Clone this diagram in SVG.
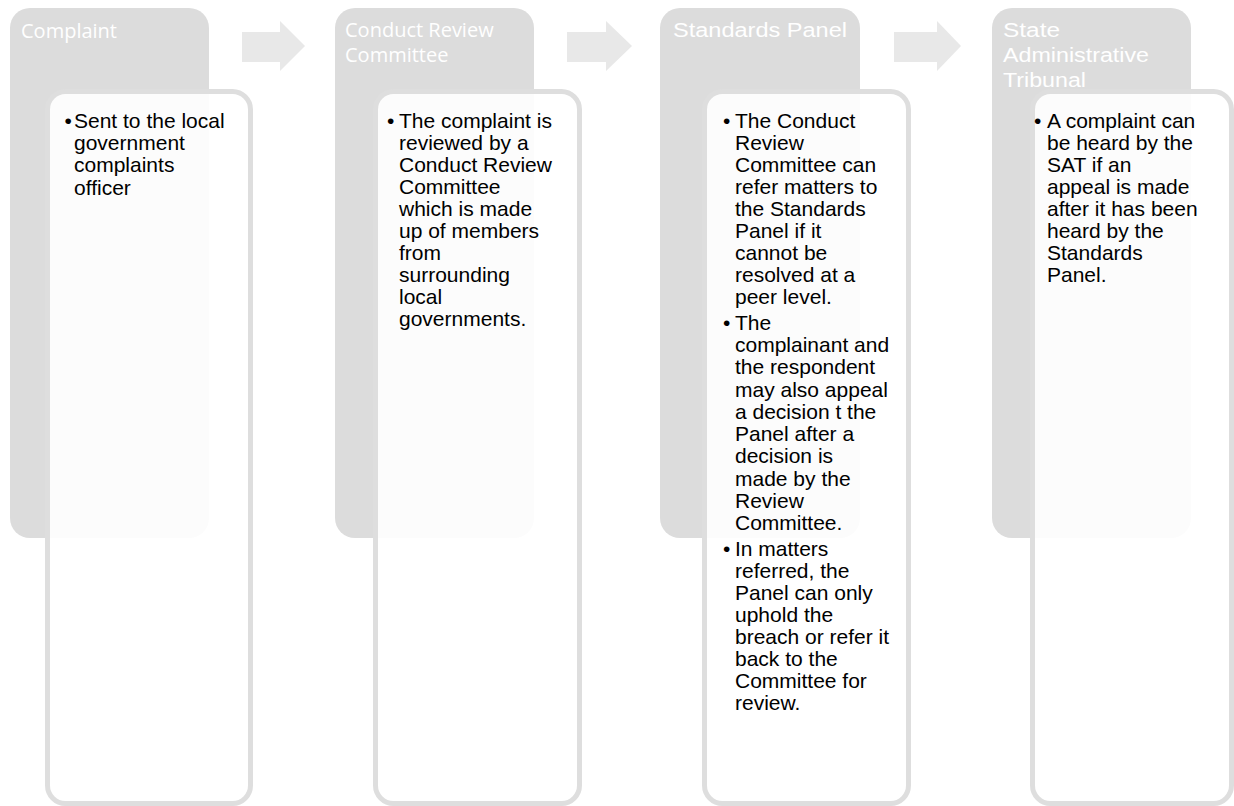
<svg xmlns="http://www.w3.org/2000/svg" width="1234" height="806" viewBox="0 0 1234 806">
<style>
.bg{fill:#dcdcdc}
.card{fill:#ffffff;fill-opacity:0.9;stroke:#dedede;stroke-width:5}
.arrow{fill:#e8e8e8}
.h1{font-family:"Open Sans","Liberation Sans",sans-serif;font-size:20px;fill:#ffffff}
.h2{font-family:"Liberation Sans",Arial,sans-serif;font-size:20px;fill:#ffffff}
.b{font-family:"Liberation Sans",Arial,sans-serif;font-size:21px;fill:#000000}
</style>
<rect width="1234" height="806" fill="#ffffff"/>
<g id="connectors">
<polygon class="arrow" points="242,32 280,32 280,21 305,46 280,71 280,62 242,62"/>
<polygon class="arrow" points="567,32 606,32 606,21 632,46 606,71 606,62 567,62"/>
<polygon class="arrow" points="894,32 937,32 937,21 961,46 937,71 937,62 894,62"/>
</g>
<g id="complaint">
<rect class="bg" x="10" y="8" width="199" height="530" rx="20"/>
<text class="h1" x="21" y="38">Complaint</text>
<rect class="card" x="47.5" y="91.5" width="203" height="712" rx="18"/>
<text class="b" x="64.5" y="128">•</text>
<text class="b" x="74"><tspan x="74" y="128">Sent to the local</tspan><tspan x="74" y="150">government</tspan><tspan x="74" y="172">complaints</tspan><tspan x="74" y="195">officer</tspan></text>
</g>
<g id="conduct-review-committee">
<rect class="bg" x="335" y="8" width="199" height="530" rx="20"/>
<text class="h1"><tspan x="345" y="37">Conduct Review</tspan><tspan x="345" y="62">Committee</tspan></text>
<rect class="card" x="375.5" y="91.5" width="204" height="712" rx="18"/>
<text class="b" x="387" y="128">•</text>
<text class="b"><tspan x="399" y="128">The complaint is</tspan><tspan x="399" y="150">reviewed by a</tspan><tspan x="399" y="172">Conduct Review</tspan><tspan x="399" y="194">Committee</tspan><tspan x="399" y="216">which is made</tspan><tspan x="399" y="238">up of members</tspan><tspan x="399" y="260">from</tspan><tspan x="399" y="282">surrounding</tspan><tspan x="399" y="304">local</tspan><tspan x="399" y="326">governments.</tspan></text>
</g>
<g id="standards-panel">
<rect class="bg" x="660" y="8" width="200" height="530" rx="20"/>
<text class="h2" x="673" y="37" textLength="174" lengthAdjust="spacingAndGlyphs">Standards Panel</text>
<rect class="card" x="704.5" y="91.5" width="204" height="712" rx="18"/>
<text class="b" x="723" y="128">•</text>
<text class="b" x="723" y="330">•</text>
<text class="b" x="723" y="556">•</text>
<text class="b"><tspan x="735" y="128">The Conduct</tspan><tspan x="735" y="150">Review</tspan><tspan x="735" y="172">Committee can</tspan><tspan x="735" y="194">refer matters to</tspan><tspan x="735" y="216">the Standards</tspan><tspan x="735" y="238">Panel if it</tspan><tspan x="735" y="260">cannot be</tspan><tspan x="735" y="282">resolved at a</tspan><tspan x="735" y="304">peer level.</tspan><tspan x="735" y="330">The</tspan><tspan x="735" y="352">complainant and</tspan><tspan x="735" y="374">the respondent</tspan><tspan x="735" y="397">may also appeal</tspan><tspan x="735" y="419">a decision t the</tspan><tspan x="735" y="441">Panel after a</tspan><tspan x="735" y="463">decision is</tspan><tspan x="735" y="486">made by the</tspan><tspan x="735" y="508">Review</tspan><tspan x="735" y="530">Committee.</tspan><tspan x="735" y="556">In matters</tspan><tspan x="735" y="578">referred, the</tspan><tspan x="735" y="600">Panel can only</tspan><tspan x="735" y="622">uphold the</tspan><tspan x="735" y="644">breach or refer it</tspan><tspan x="735" y="666">back to the</tspan><tspan x="735" y="688">Committee for</tspan><tspan x="735" y="710">review.</tspan></text>
</g>
<g id="state-administrative-tribunal">
<rect class="bg" x="992" y="8" width="199" height="530" rx="20"/>
<text class="h2" x="1003" y="37" textLength="57" lengthAdjust="spacingAndGlyphs">State</text>
<text class="h2" x="1003" y="62" textLength="146" lengthAdjust="spacingAndGlyphs">Administrative</text>
<text class="h2" x="1003" y="87" textLength="83" lengthAdjust="spacingAndGlyphs">Tribunal</text>
<rect class="card" x="1032.5" y="91.5" width="199" height="712" rx="18"/>
<text class="b" x="1034" y="128">•</text>
<text class="b"><tspan x="1047" y="128">A complaint can</tspan><tspan x="1047" y="150">be heard by the</tspan><tspan x="1047" y="172">SAT if an</tspan><tspan x="1047" y="194">appeal is made</tspan><tspan x="1047" y="216">after it has been</tspan><tspan x="1047" y="238">heard by the</tspan><tspan x="1047" y="260">Standards</tspan><tspan x="1047" y="282">Panel.</tspan></text>
</g>
</svg>
